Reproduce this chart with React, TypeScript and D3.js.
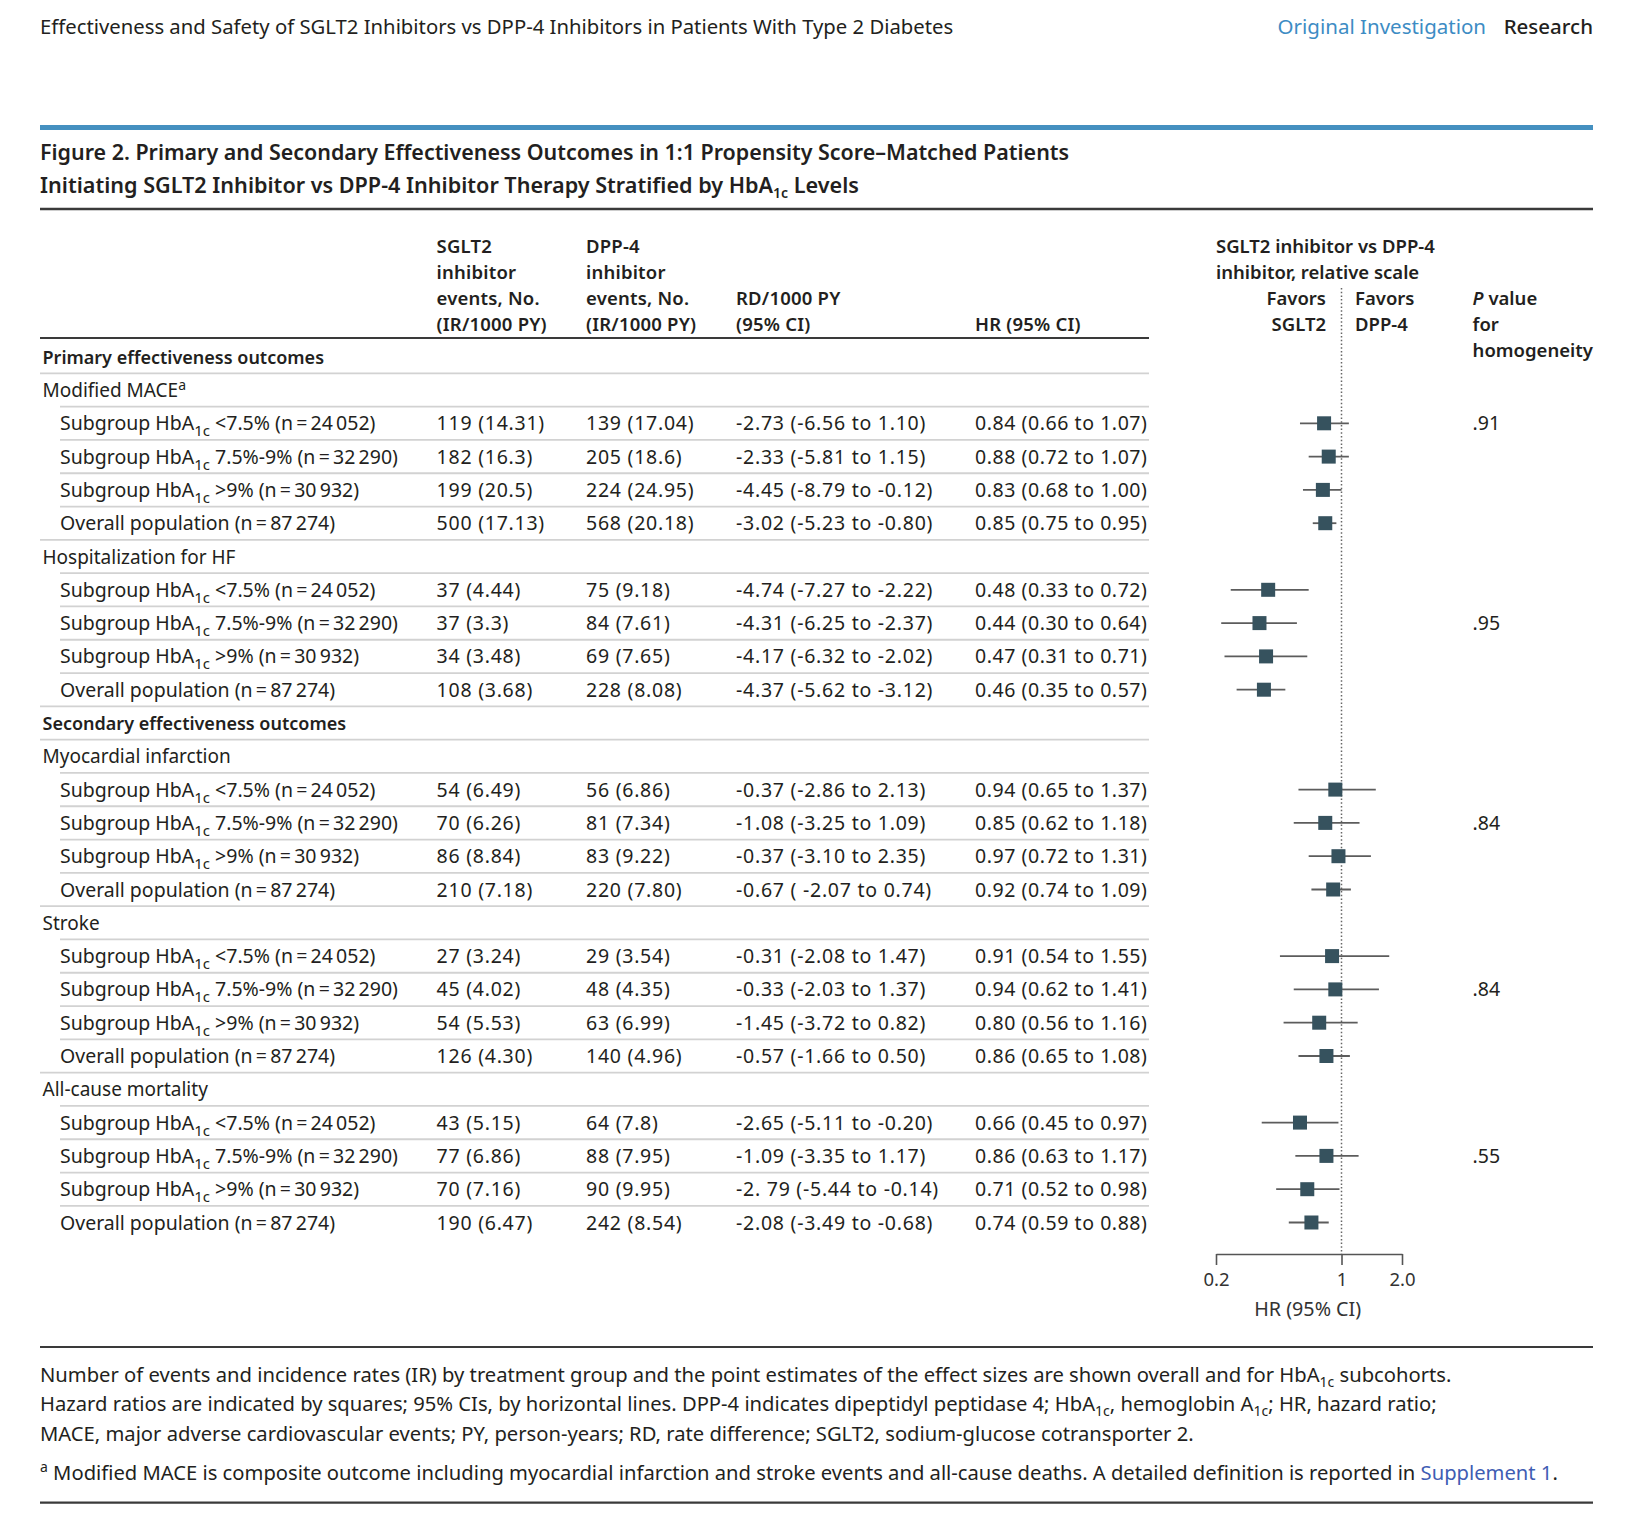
import React, { useEffect, useRef } from "react";
import * as d3 from "d3";

const FONT = "'Noto Sans', 'Open Sans', sans-serif";
const TEXT = "#231f20";
const BLUE = "#3d8cc4";
const LINK = "#3f5db3";
const SQUARE = "#36525e";
const CI_COLOR = "#5c5c5c";
const RULE = "#3a3a3a";
const SEP = "#d2d2d2";

const runningHead = "Effectiveness and Safety of SGLT2 Inhibitors vs DPP-4 Inhibitors in Patients With Type 2 Diabetes";
const headerLinks = ["Original Investigation", "Research"];
const titleLine1 = "Figure 2. Primary and Secondary Effectiveness Outcomes in 1:1 Propensity Score–Matched Patients";
const titleLine2 = "Initiating SGLT2 Inhibitor vs DPP-4 Inhibitor Therapy Stratified by HbA";
const titleLine2End = " Levels";

const sectionTitles = ["Primary effectiveness outcomes", "Secondary effectiveness outcomes"];
const outcomeNames = ["Modified MACE", "Hospitalization for HF", "Myocardial infarction", "Stroke", "All-cause mortality"];
const outcomeSection = [0, 0, 1, 1, 1];
const subgroupRanges = [
  "<7.5% (n\u2009=\u200924\u2009052)",
  "7.5%-9% (n\u2009=\u200932\u2009290)",
  ">9% (n\u2009=\u200930\u2009932)",
];
const overallLabel = "Overall population (n\u2009=\u200987\u2009274)";

const sglt2Events = [
  ["119 (14.31)", "182 (16.3)", "199 (20.5)", "500 (17.13)"],
  ["37 (4.44)", "37 (3.3)", "34 (3.48)", "108 (3.68)"],
  ["54 (6.49)", "70 (6.26)", "86 (8.84)", "210 (7.18)"],
  ["27 (3.24)", "45 (4.02)", "54 (5.53)", "126 (4.30)"],
  ["43 (5.15)", "77 (6.86)", "70 (7.16)", "190 (6.47)"],
];
const dpp4Events = [
  ["139 (17.04)", "205 (18.6)", "224 (24.95)", "568 (20.18)"],
  ["75 (9.18)", "84 (7.61)", "69 (7.65)", "228 (8.08)"],
  ["56 (6.86)", "81 (7.34)", "83 (9.22)", "220 (7.80)"],
  ["29 (3.54)", "48 (4.35)", "63 (6.99)", "140 (4.96)"],
  ["64 (7.8)", "88 (7.95)", "90 (9.95)", "242 (8.54)"],
];
const rdValues = [
  ["-2.73 (-6.56 to 1.10)", "-2.33 (-5.81 to 1.15)", "-4.45 (-8.79 to -0.12)", "-3.02 (-5.23 to -0.80)"],
  ["-4.74 (-7.27 to -2.22)", "-4.31 (-6.25 to -2.37)", "-4.17 (-6.32 to -2.02)", "-4.37 (-5.62 to -3.12)"],
  ["-0.37 (-2.86 to 2.13)", "-1.08 (-3.25 to 1.09)", "-0.37 (-3.10 to 2.35)", "-0.67 ( -2.07 to 0.74)"],
  ["-0.31 (-2.08 to 1.47)", "-0.33 (-2.03 to 1.37)", "-1.45 (-3.72 to 0.82)", "-0.57 (-1.66 to 0.50)"],
  ["-2.65 (-5.11 to -0.20)", "-1.09 (-3.35 to 1.17)", "-2. 79 (-5.44 to -0.14)", "-2.08 (-3.49 to -0.68)"],
];
const hrEstimate = [
  [0.84, 0.88, 0.83, 0.85],
  [0.48, 0.44, 0.47, 0.46],
  [0.94, 0.85, 0.97, 0.92],
  [0.91, 0.94, 0.8, 0.86],
  [0.66, 0.86, 0.71, 0.74],
];
const hrLower = [
  [0.66, 0.72, 0.68, 0.75],
  [0.33, 0.3, 0.31, 0.35],
  [0.65, 0.62, 0.72, 0.74],
  [0.54, 0.62, 0.56, 0.65],
  [0.45, 0.63, 0.52, 0.59],
];
const hrUpper = [
  [1.07, 1.07, 1.0, 0.95],
  [0.72, 0.64, 0.71, 0.57],
  [1.37, 1.18, 1.31, 1.09],
  [1.55, 1.41, 1.16, 1.08],
  [0.97, 1.17, 0.98, 0.88],
];
const pValues = [".91", ".95", ".84", ".84", ".55"];
const pValueRow = [0, 1, 1, 1, 1];

const colHeaders = [
  ["SGLT2", "inhibitor", "events, No.", "(IR/1000 PY)"],
  ["DPP-4", "inhibitor", "events, No.", "(IR/1000 PY)"],
  ["RD/1000 PY", "(95% CI)"],
  ["HR (95% CI)"],
];
const forestHeader = ["SGLT2 inhibitor vs DPP-4", "inhibitor, relative scale"];
const favorsLeft = ["Favors", "SGLT2"];
const favorsRight = ["Favors", "DPP-4"];
const axisTicks = [0.2, 1, 2];
const axisTickLabels = ["0.2", "1", "2.0"];
const axisTitle = "HR (95% CI)";

const footLine1 = "Number of events and incidence rates (IR) by treatment group and the point estimates of the effect sizes are shown overall and for HbA";
const footLine1End = " subcohorts.";
const footLine2a = "Hazard ratios are indicated by squares; 95% CIs, by horizontal lines. DPP-4 indicates dipeptidyl peptidase 4; HbA";
const footLine2b = ", hemoglobin A";
const footLine2c = "; HR, hazard ratio;";
const footLine3 = "MACE, major adverse cardiovascular events; PY, person-years; RD, rate difference; SGLT2, sodium-glucose cotransporter 2.";
const footnote = " Modified MACE is composite outcome including myocardial infarction and stroke events and all-cause deaths. A detailed definition is reported in ";
const footnoteLink = "Supplement 1";

// layout
const W = 1626;
const H = 1521;
const LEFT = 40;
const RIGHT = 1593;
const TABLE_RIGHT = 1149;
const colX = [436.6, 586, 736, 975];
const FS = 19.5;
const HFS = 18.5;
const SECFS = 18;
const NUM_LS = 0.75;
const FOOT_FS = 20.2;

type Row = { kind: "section" | "category" | "sub"; idx: number; sub: number };
const rows: Row[] = [];
{
  let prev = -1;
  outcomeNames.forEach((_, o) => {
    if (outcomeSection[o] !== prev) {
      prev = outcomeSection[o];
      rows.push({ kind: "section", idx: prev, sub: -1 });
    }
    rows.push({ kind: "category", idx: o, sub: -1 });
    for (let s = 0; s < 4; s++) rows.push({ kind: "sub", idx: o, sub: s });
  });
}

const yScale = d3.scaleLinear().domain([0, rows.length - 1]).range([356.7, 1222.5]);
const hrScale = d3.scaleLog().domain([0.25, 1, 2]).range([1203, 1341.5, 1417]);
const axisScale = d3.scaleLog().domain([0.2, 1, 2]).range([1216, 1341.5, 1402]);
const AXIS_Y = 1254;
const SQ = 14;

function SubLabel({ range }: { range: string }) {
  return (
    <>
      Subgroup HbA
      <tspan fontSize={15} dy={6}>1c</tspan>
      <tspan dy={-6}>{" " + range}</tspan>
    </>
  );
}

export default function App() {
  const axisRef = useRef<SVGGElement>(null);

  useEffect(() => {
    if (!axisRef.current) return;
    const g = d3.select(axisRef.current);
    g.selectAll("*").remove();
    g.call(
      d3
        .axisBottom(axisScale)
        .tickValues(axisTicks)
        .tickFormat((_, i) => axisTickLabels[i])
        .tickSize(11)
        .tickSizeOuter(0)
        .tickPadding(8)
    );
    g.attr("font-family", FONT).attr("font-size", 18.5);
    g.select(".domain").attr("stroke", "#555").attr("stroke-width", 1.6);
    g.selectAll(".tick line").attr("stroke", "#555").attr("stroke-width", 1.6);
    g.selectAll(".tick text").attr("fill", "#333");
  }, []);

  const base = (cy: number) => cy + FS * 0.36;

  return (
    <svg
      width={W}
      height={H}
      viewBox={`0 0 ${W} ${H}`}
      style={{ position: "absolute", left: 0, top: 0, background: "#fff" }}
      fontFamily={FONT}
      fill={TEXT}
    >
      <rect x={0} y={0} width={W} height={H} fill="#fff" />
      {/* running head */}
      <text x={LEFT} y={34} fontSize={20.3}>
        {runningHead}
      </text>
      <text x={1277.6} y={34} fontSize={20.5} fill={BLUE}>
        {headerLinks[0]}
      </text>
      <text x={RIGHT} y={34} fontSize={20.5} textAnchor="end" fontWeight={500}>
        {headerLinks[1]}
      </text>
      <rect x={LEFT} y={125} width={RIGHT - LEFT} height={5} fill="#4590c0" />

      {/* title */}
      <text x={LEFT} y={160} fontSize={21.45} fontWeight={600}>
        {titleLine1}
      </text>
      <text x={LEFT} y={193} fontSize={21.6} fontWeight={600}>
        {titleLine2}
        <tspan fontSize={14} dy={5}>1c</tspan>
        <tspan dy={-5}>{titleLine2End}</tspan>
      </text>
      <line x1={LEFT} x2={RIGHT} y1={209} y2={209} stroke={RULE} strokeWidth={2.5} />

      {/* column headers */}
      {colHeaders.map((lines, c) =>
        lines.map((t, j) => (
          <text
            key={`h${c}-${j}`}
            x={colX[c]}
            y={base(323.5 - (lines.length - 1 - j) * 25.9)}
            fontSize={HFS}
            fontWeight={600}
            letterSpacing={0.2}
          >
            {t}
          </text>
        ))
      )}
      <line x1={LEFT} x2={TABLE_RIGHT} y1={338} y2={338} stroke={RULE} strokeWidth={2.2} />

      {/* forest header */}
      {forestHeader.map((t, j) => (
        <text key={`fh${j}`} x={1216} y={base(245.8 + j * 25.9)} fontSize={HFS} fontWeight={600}>
          {t}
        </text>
      ))}
      {favorsLeft.map((t, j) => (
        <text key={`fl${j}`} x={1326} y={base(297.6 + j * 25.9)} fontSize={HFS} fontWeight={600} textAnchor="end">
          {t}
        </text>
      ))}
      {favorsRight.map((t, j) => (
        <text key={`fr${j}`} x={1355} y={base(297.6 + j * 25.9)} fontSize={HFS} fontWeight={600}>
          {t}
        </text>
      ))}
      <text x={1472.6} y={base(297.6)} fontSize={HFS} fontWeight={600}>
        <tspan fontStyle="italic">P</tspan> value
      </text>
      <text x={1472.6} y={base(323.5)} fontSize={HFS} fontWeight={600}>
        for
      </text>
      <text x={1472.6} y={base(349.5)} fontSize={HFS} fontWeight={600}>
        homogeneity
      </text>

      {/* separators */}
      {rows.slice(0, -1).map((r, i) => {
        const full = r.kind === "section" || (r.kind === "sub" && r.sub === 3);
        return (
          <line
            key={`sep${i}`}
            x1={full ? LEFT : 60}
            x2={TABLE_RIGHT}
            y1={yScale(i + 0.5)}
            y2={yScale(i + 0.5)}
            stroke={SEP}
            strokeWidth={1.8}
          />
        );
      })}

      {/* reference line */}
      <line
        x1={hrScale(1)}
        x2={hrScale(1)}
        y1={288}
        y2={AXIS_Y}
        stroke="#666"
        strokeWidth={1.5}
        strokeDasharray="1.5,2.2"
      />

      {/* rows */}
      {rows.map((r, i) => {
        const cy = yScale(i);
        const by = base(cy);
        if (r.kind === "section") {
          return (
            <text key={`r${i}`} x={42.5} y={by} fontSize={SECFS} fontWeight={600}>
              {sectionTitles[r.idx]}
            </text>
          );
        }
        if (r.kind === "category") {
          return (
            <text key={`r${i}`} x={42.5} y={by} fontSize={19}>
              {outcomeNames[r.idx]}
              {r.idx === 0 ? (
                <tspan fontSize={14} dy={-7}>
                  a
                </tspan>
              ) : null}
            </text>
          );
        }
        const o = r.idx;
        const s = r.sub;
        const est = hrEstimate[o][s];
        const lo = hrLower[o][s];
        const hi = hrUpper[o][s];
        return (
          <g key={`r${i}`}>
            <text x={60} y={by} fontSize={FS}>
              {s < 3 ? <SubLabel range={subgroupRanges[s]} /> : overallLabel}
            </text>
            <text x={colX[0]} y={by} fontSize={FS} letterSpacing={NUM_LS}>
              {sglt2Events[o][s]}
            </text>
            <text x={colX[1]} y={by} fontSize={FS} letterSpacing={NUM_LS}>
              {dpp4Events[o][s]}
            </text>
            <text x={colX[2]} y={by} fontSize={FS} letterSpacing={NUM_LS}>
              {rdValues[o][s]}
            </text>
            <text x={colX[3]} y={by} fontSize={FS} letterSpacing={NUM_LS * 0.75}>
              {`${est.toFixed(2)} (${lo.toFixed(2)} to ${hi.toFixed(2)})`}
            </text>
            <line x1={hrScale(lo)} x2={hrScale(hi)} y1={cy} y2={cy} stroke={CI_COLOR} strokeWidth={1.8} />
            <rect x={hrScale(est) - SQ / 2} y={cy - SQ / 2} width={SQ} height={SQ} fill={SQUARE} />
            {pValueRow[o] === s ? (
              <text x={1472.6} y={by} fontSize={FS}>
                {pValues[o]}
              </text>
            ) : null}
          </g>
        );
      })}

      {/* axis */}
      <g ref={axisRef} transform={`translate(0,${AXIS_Y})`} />
      <text x={1307.7} y={1316} fontSize={19.7} textAnchor="middle" fill="#333">
        {axisTitle}
      </text>

      {/* footer */}
      <line x1={LEFT} x2={RIGHT} y1={1347} y2={1347} stroke={RULE} strokeWidth={2.2} />
      <text x={LEFT} y={1382} fontSize={FOOT_FS}>
        {footLine1}
        <tspan fontSize={14} dy={5}>1c</tspan>
        <tspan dy={-5}>{footLine1End}</tspan>
      </text>
      <text x={LEFT} y={1411} fontSize={FOOT_FS}>
        {footLine2a}
        <tspan fontSize={14} dy={5}>1c</tspan>
        <tspan dy={-5}>{footLine2b}</tspan>
        <tspan fontSize={14} dy={5}>1c</tspan>
        <tspan dy={-5}>{footLine2c}</tspan>
      </text>
      <text x={LEFT} y={1441} fontSize={FOOT_FS}>
        {footLine3}
      </text>
      <text x={LEFT} y={1480} fontSize={FOOT_FS}>
        <tspan fontSize={14} dy={-8}>a</tspan>
        <tspan dy={8}>{footnote}</tspan>
        <tspan fill={LINK}>{footnoteLink}</tspan>.
      </text>
      <line x1={LEFT} x2={RIGHT} y1={1502.6} y2={1502.6} stroke={RULE} strokeWidth={2.2} />
    </svg>
  );
}
